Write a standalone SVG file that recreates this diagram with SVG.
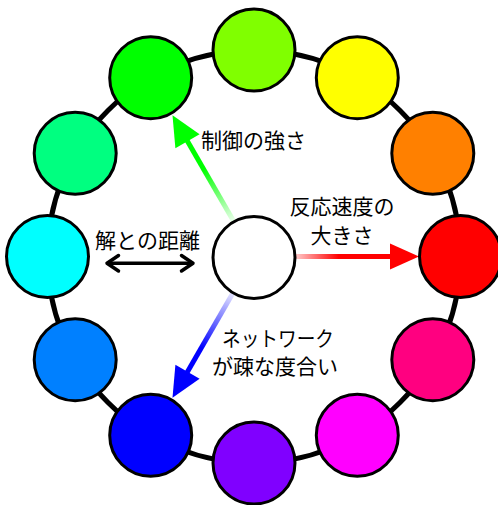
<svg xmlns="http://www.w3.org/2000/svg" width="498" height="505" viewBox="0 0 498 505">
<style>
.n{stroke:#000;stroke-width:3}
.t{font-family:"Noto Sans CJK JP","Noto Sans",sans-serif;font-size:21px;fill:#000}
</style>
<defs>
<linearGradient id="gG" gradientUnits="userSpaceOnUse" x1="233.5" y1="221" x2="187.5" y2="141.3">
<stop offset="0" stop-color="#00FF00" stop-opacity="0.08"/><stop offset="0.65" stop-color="#00FF00"/></linearGradient>
<linearGradient id="gR" gradientUnits="userSpaceOnUse" x1="295" y1="0" x2="392" y2="0">
<stop offset="0" stop-color="#FF0000" stop-opacity="0.2"/><stop offset="0.45" stop-color="#FF0000"/></linearGradient>
<linearGradient id="gB" gradientUnits="userSpaceOnUse" x1="233.5" y1="292" x2="187.5" y2="371.7">
<stop offset="0" stop-color="#0000FF" stop-opacity="0.08"/><stop offset="0.7" stop-color="#0000FF"/></linearGradient>
</defs>
<rect width="498" height="505" fill="#fff"/>
<g id="connectors">
<circle id="ring" cx="254" cy="256.5" r="206.5" fill="none" stroke="#000" stroke-width="5"/>
<line x1="233.5" y1="221" x2="186.5" y2="139.6" stroke="url(#gG)" stroke-width="5"/>
<polygon points="172.5,115.3 199.6,134.3 175.4,148.3" fill="#00FF00"/>
<line x1="295" y1="256.5" x2="392" y2="256.5" stroke="url(#gR)" stroke-width="5"/>
<polygon points="419,256.5 390,243.5 390,269.5" fill="#FF0000"/>
<line x1="233.5" y1="292" x2="186.5" y2="373.4" stroke="url(#gB)" stroke-width="5"/>
<polygon points="172.5,397.7 199.6,378.7 175.4,364.7" fill="#0000FF"/>
<g stroke="#000" stroke-width="3.5" fill="none" stroke-linecap="round" stroke-linejoin="round">
<line x1="108" y1="263.3" x2="192" y2="263.3"/>
<polyline points="118.5,255.5 107,263.3 118.5,271"/>
<polyline points="181.5,255.5 193,263.3 181.5,271"/>
</g>
</g>
<g id="center"><circle class="n" cx="254" cy="257.5" r="41" fill="#fff"/></g>
<g id="red"><circle class="n" cx="460.5" cy="256.5" r="41" fill="#FF0000"/></g>
<g id="orange"><circle class="n" cx="432.8" cy="153.3" r="41" fill="#FF8000"/></g>
<g id="yellow"><circle class="n" cx="357.3" cy="77.7" r="41" fill="#FFFF00"/></g>
<g id="lightgreen"><circle class="n" cx="254" cy="50" r="41" fill="#80FF00"/></g>
<g id="green"><circle class="n" cx="150.7" cy="77.7" r="41" fill="#00FF00"/></g>
<g id="springgreen"><circle class="n" cx="75.2" cy="153.3" r="41" fill="#00FF80"/></g>
<g id="cyan"><circle class="n" cx="47.5" cy="256.5" r="41" fill="#00FFFF"/></g>
<g id="azure"><circle class="n" cx="75.2" cy="359.8" r="41" fill="#0080FF"/></g>
<g id="blue"><circle class="n" cx="150.7" cy="435.3" r="41" fill="#0000FF"/></g>
<g id="violet"><circle class="n" cx="254" cy="463" r="41" fill="#8000FF"/></g>
<g id="magenta"><circle class="n" cx="357.3" cy="435.3" r="41" fill="#FF00FF"/></g>
<g id="rose"><circle class="n" cx="432.8" cy="359.8" r="41" fill="#FF0080"/></g>
<g id="labels">
<text class="t" x="201" y="147.5">制御の強さ</text>
<text class="t" x="342" y="214" text-anchor="middle">反応速度の</text>
<text class="t" x="342" y="242.5" text-anchor="middle">大きさ</text>
<text class="t" x="147.5" y="248" text-anchor="middle">解との距離</text>
<text class="t" x="222" y="346" textLength="112" lengthAdjust="spacingAndGlyphs">ネットワーク</text>
<text class="t" x="275" y="374" text-anchor="middle">が疎な度合い</text>
</g>
</svg>
